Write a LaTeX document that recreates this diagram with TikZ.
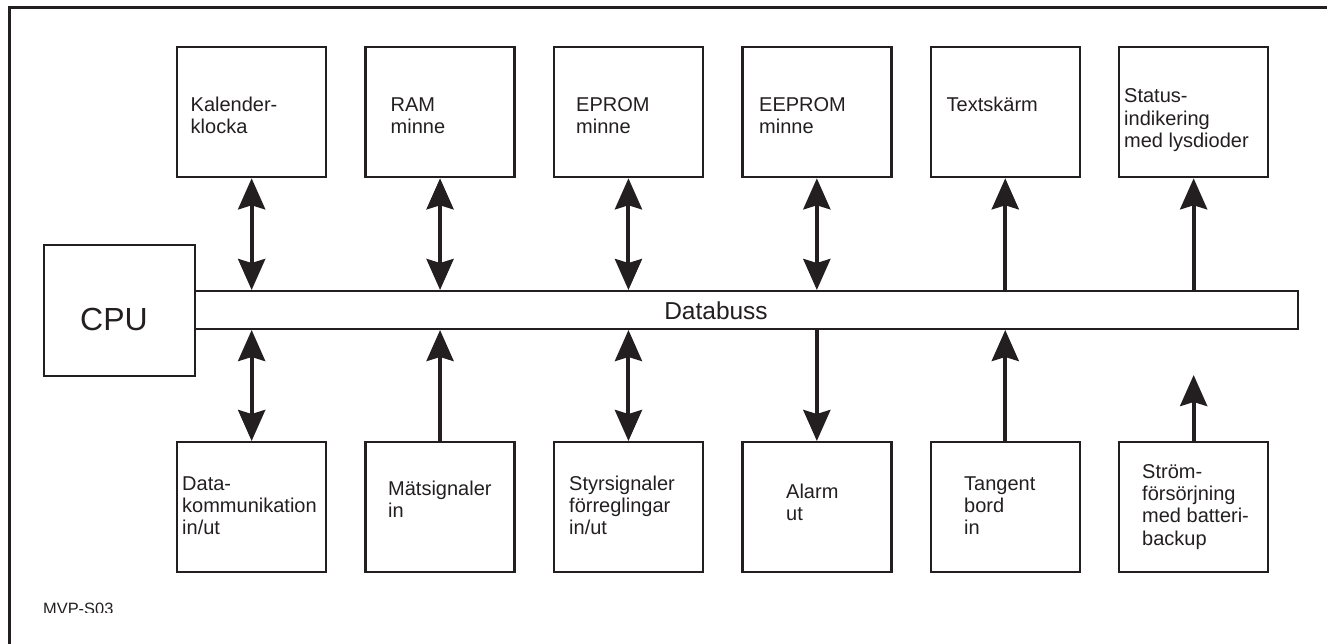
\documentclass[tikz,border=0pt]{standalone}
\usepackage{fontspec}
\setmainfont{Liberation Sans}
\usetikzlibrary{arrows.meta}
\definecolor{ink}{HTML}{231F20}
\begin{document}
\begin{tikzpicture}[x=1pt,y=-1pt,
  box/.style={draw=ink, line width=2.3pt, minimum width=149pt, minimum height=130pt, inner sep=0pt, anchor=north west},
  lbl/.style={anchor=base west, inner sep=0pt, text=ink, font=\fontsize{20}{22.4}\selectfont},
  tip/.tip={Stealth[length=31pt, width=27pt, inset=4pt]},
  link/.style={draw=ink, line width=4pt},
  bi/.style={link, tip-tip},
  up/.style={link, -tip},
]
\useasboundingbox (0,0) rectangle (1327,643);
% frame
\draw[ink, line width=2.3pt] (9.5,660) -- (9.5,7.5) -- (1340,7.5);
% bus and CPU
\node[draw=ink, line width=2pt, minimum width=1103pt, minimum height=38pt, inner sep=0pt, anchor=north west] (bus) at (194,290) {};
\node[text=ink, font=\fontsize{24.5}{28}\selectfont, anchor=base] (db) at (716,319) {Databuss};
\node[draw=ink, line width=2.3pt, minimum width=151pt, minimum height=131pt, inner sep=0pt, anchor=north west] (cpu) at (43,244) {};
\node[text=ink, font=\fontsize{32}{36}\selectfont, anchor=base] (cputxt) at (114,330) {CPU};
% top boxes
\node[box] (t1) at (176,46) {};
\node[box] (t2) at (364.4,46) {};
\node[box] (t3) at (552.8,46) {};
\node[box] (t4) at (741.2,46) {};
\node[box] (t5) at (929.6,46) {};
\node[box] (t6) at (1118,46) {};
% bottom boxes
\node[box] (b1) at (176,441) {};
\node[box] (b2) at (364.4,441) {};
\node[box] (b3) at (552.8,441) {};
\node[box] (b4) at (741.2,441) {};
\node[box] (b5) at (929.6,441) {};
\node[box] (b6) at (1118,441) {};
% labels top
\node[lbl] (lt1) at (190.5,111.5) {\vtop{\hbox{Kalender-}\hbox{klocka}}};
\node[lbl] (lt2) at (390.5,111.5) {\vtop{\hbox{RAM}\hbox{minne}}};
\node[lbl] (lt3) at (576,111) {\vtop{\hbox{EPROM}\hbox{minne}}};
\node[lbl] (lt4) at (759,111) {\vtop{\hbox{EEPROM}\hbox{minne}}};
\node[lbl] (lt5) at (946.5,111) {Textskärm};
\node[lbl] (lt6) at (1124,102.7) {\vtop{\hbox{Status-}\hbox{indikering}\hbox{med lysdioder}}};
% labels bottom
\node[lbl] (lb1) at (182,490) {\vtop{\hbox{Data-}\hbox{kommunikation}\hbox{in/ut}}};
\node[lbl] (lb2) at (388,495) {\vtop{\hbox{Mätsignaler}\hbox{in}}};
\node[lbl] (lb3) at (569,490) {\vtop{\hbox{Styrsignaler}\hbox{förreglingar}\hbox{in/ut}}};
\node[lbl] (lb4) at (786,498) {\vtop{\hbox{Alarm}\hbox{ut}}};
\node[lbl] (lb5) at (964,490) {\vtop{\hbox{Tangent}\hbox{bord}\hbox{in}}};
\node[lbl] (lb6) at (1142,478) {\vtop{\hbox{Ström-}\hbox{försörjning}\hbox{med batteri-}\hbox{backup}}};
% connectors top
\draw[bi] (t1.south) -- (t1.south |- bus.north);
\draw[bi] (t2.south) -- (t2.south |- bus.north);
\draw[bi] (t3.south) -- (t3.south |- bus.north);
\draw[bi] (t4.south) -- (t4.south |- bus.north);
\draw[up] (t5.south |- bus.north) -- (t5.south);
\draw[up] (t6.south |- bus.north) -- (t6.south);
% connectors bottom
\draw[bi] (b1.north) -- (b1.north |- bus.south);
\draw[up] (b2.north) -- (b2.north |- bus.south);
\draw[bi] (b3.north) -- (b3.north |- bus.south);
\draw[up] (b4.north |- bus.south) -- (b4.north);
\draw[up] (b5.north) -- (b5.north |- bus.south);
\coordinate (pwr) at (1193,375);
\draw[up] (b6.north) -- (b6.north |- pwr);
% code
\begin{scope}
\clip (0,0) rectangle (1327,612);
\node[anchor=base west, inner sep=0pt, text=ink, font=\fontsize{16.4}{18}\selectfont] (mvp) at (43,614) {MVP-S03};
\end{scope}
\end{tikzpicture}
\end{document}
